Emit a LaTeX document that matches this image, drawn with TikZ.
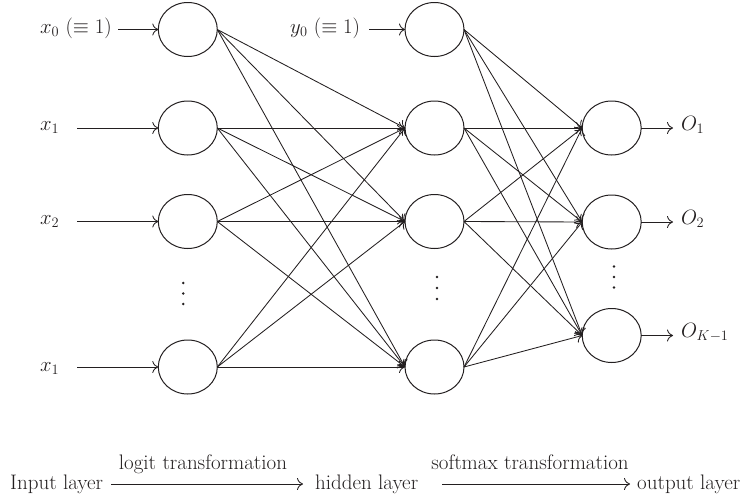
\documentclass[tikz,border=0pt]{standalone}
\usetikzlibrary{arrows.meta,shapes.geometric}
\definecolor{ink}{HTML}{231F20}
\begin{document}
\begin{tikzpicture}[x=1pt,y=-1pt,
  font=\fontsize{21}{25}\selectfont, color=ink,
  neuron/.style={draw=ink, ellipse, minimum width=59pt, minimum height=54pt, line width=1pt, inner sep=0pt, outer sep=0pt},
  conn/.style={draw=ink, line width=0.85pt, -{To[length=6pt,width=12pt]}},
  lbl/.style={inner sep=0pt, anchor=base west},
  dotmark/.style={circle, fill=ink, inner sep=0pt, minimum size=2.8pt}]
\useasboundingbox (0,0) rectangle (742,498);

% input layer
\node[neuron] (i0) at (187.8,29.5) {};
\node[neuron] (i1) at (187.8,128) {};
\node[neuron] (i2) at (187.8,221.5) {};
\node[neuron] (i3) at (187.8,367) {};
% hidden layer
\node[neuron] (h0) at (434.5,29.5) {};
\node[neuron] (h1) at (434.5,128) {};
\node[neuron] (h2) at (434.5,221.5) {};
\node[neuron] (h3) at (434.5,367) {};
% output layer
\node[neuron] (o1) at (611.7,128) {};
\node[neuron] (o2) at (611.7,222) {};
\node[neuron] (o3) at (611.7,335.5) {};

% vertical dots
\node[dotmark] (di1) at (183.3,283) {};
\node[dotmark] (di2) at (183.3,293.5) {};
\node[dotmark] (di3) at (183.3,304) {};
\node[dotmark] (dh1) at (437,277) {};
\node[dotmark] (dh2) at (437,288) {};
\node[dotmark] (dh3) at (437,299) {};
\node[dotmark] (do1) at (614,266.5) {};
\node[dotmark] (do2) at (614,277) {};
\node[dotmark] (do3) at (614,287.5) {};

% input labels
\node[lbl] (lx0) at (40,33) {$x_0$ $(\equiv 1)$};
\node[lbl] (lx1) at (40,130) {$x_1$};
\node[lbl] (lx2) at (40,224) {$x_2$};
\node[lbl] (lx3) at (40,371) {$x_1$};
\node[lbl] (ly0) at (290,33) {$y_0$ $(\equiv 1)$};
\coordinate (s0) at (118,29.5);
\coordinate (s1) at (77,128);
\coordinate (s2) at (77,221.5);
\coordinate (s3) at (77,367);
\coordinate (sy) at (369,29.5);
\draw[conn] (s0) -- (i0.west);
\draw[conn] (s1) -- (i1.west);
\draw[conn] (s2) -- (i2.west);
\draw[conn] (s3) -- (i3.west);
\draw[conn] (sy) -- (h0.west);

% input -> hidden
\foreach \a in {i0,i1,i2,i3}
  \foreach \b in {h1,h2,h3}
    \draw[conn] (\a.east) -- (\b.west);
% hidden -> output
\foreach \a in {h0,h1,h2,h3}
  \foreach \b in {o1,o2,o3}
    \draw[conn] (\a.east) -- (\b.west);

% outputs
\coordinate (e1) at (673,128);
\coordinate (e2) at (673,222);
\coordinate (e3) at (673,335.5);
\draw[conn] (o1.east) -- (e1);
\draw[conn] (o2.east) -- (e2);
\draw[conn] (o3.east) -- (e3);
\node[lbl] (lo1) at (681,130) {$O_1$};
\node[lbl] (lo2) at (681,224) {$O_2$};
\node[lbl] (lo3) at (681,337.5) {$O_{K-1}$};

% bottom legend
\node[lbl] (tin) at (10,489) {Input layer};
\node[lbl] (thid) at (315,489) {hidden layer};
\node[lbl] (tout) at (637,489) {output layer};
\coordinate (b1) at (111,484);
\coordinate (b2) at (303,484);
\coordinate (b3) at (442,484);
\coordinate (b4) at (630,484);
\draw[conn] (b1) -- (b2);
\draw[conn] (b3) -- (b4);
\node[inner sep=0pt, anchor=base] (tlogit) at (203,469) {logit transformation};
\node[inner sep=0pt, anchor=base] (tsoft) at (530,469) {softmax transformation};
\end{tikzpicture}
\end{document}
